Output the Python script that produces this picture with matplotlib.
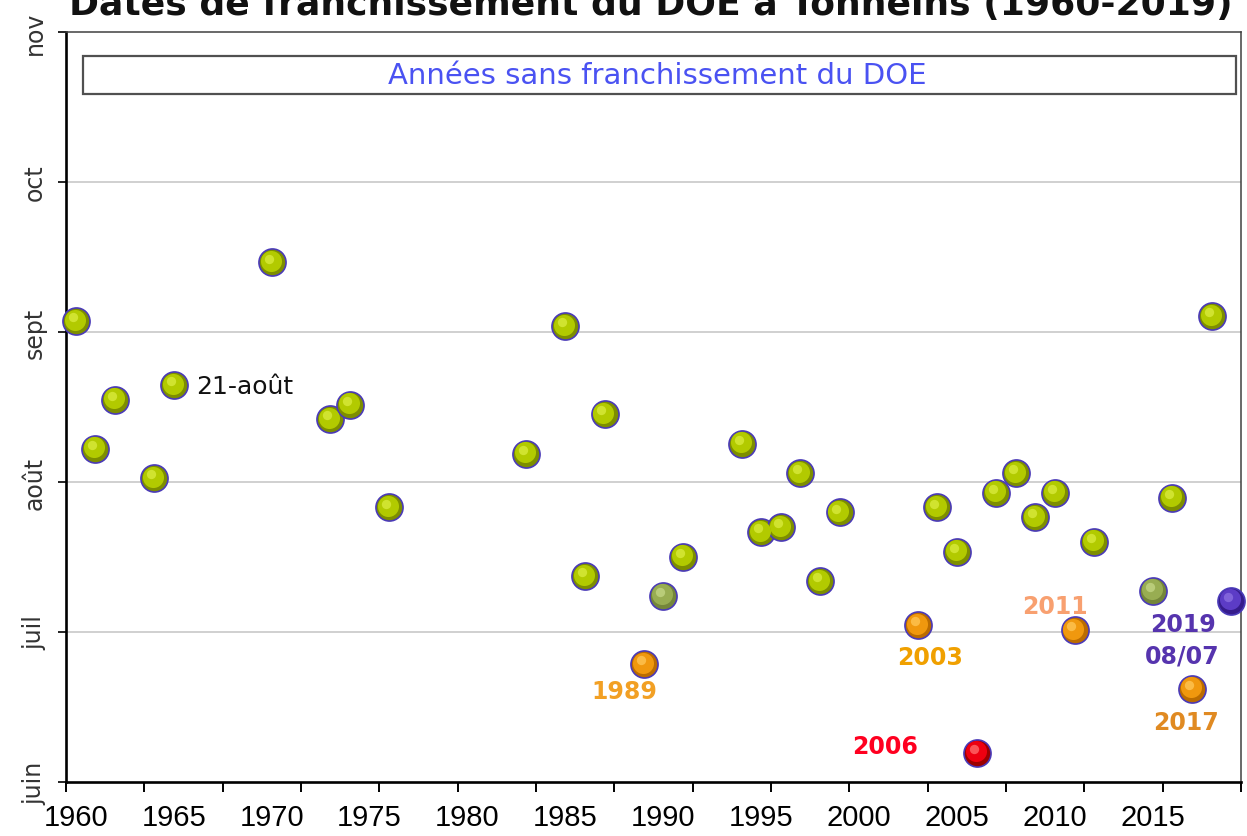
import matplotlib.pyplot as plt
import matplotlib.transforms as mtransforms
from matplotlib.patches import Rectangle
import numpy as np
import pandas as pd

# date de franchissement du DOE, une valeur par année concernée
annees = [1960, 1961, 1962, 1964, 1965, 1970, 1973, 1974, 1976, 1983,
          1985, 1986, 1987, 1989, 1990, 1991, 1994, 1995, 1996, 1997,
          1998, 1999, 2003, 2004, 2005, 2006, 2007, 2008, 2009, 2010,
          2011, 2012, 2015, 2016, 2017, 2018, 2019]
dates = ['09-03', '08-08', '08-18', '08-02', '08-21', '09-15', '08-14', '08-17', '07-27', '08-07',
         '09-02', '07-13', '08-15', '06-25', '07-09', '07-17', '08-09', '07-22', '07-23', '08-03',
         '07-12', '07-26', '07-03', '07-27', '07-18', '06-07', '07-30', '08-03', '07-25', '07-30',
         '07-02', '07-20', '07-10', '07-29', '06-20', '09-04', '07-08']
groupe = ['n', 'n', 'n', 'n', 'n', 'n', 'n', 'n', 'n', 'n',
          'n', 'n', 'n', 'o', 'p', 'n', 'n', 'n', 'n', 'n',
          'n', 'n', 'o', 'n', 'n', 'r', 'n', 'n', 'n', 'n',
          'o', 'n', 'p', 'n', 'o', 'n', 'v']

mois = ['juin', 'juil', 'août', 'sept', 'oct', 'nov']
annees_ticks = list(range(1960, 2016, 5))

# (bord sombre, teinte, reflet)
teintes = {
    'n': ('#7d8e00', '#b2ca00', '#d8ea3c'),
    'p': ('#74863a', '#98ad52', '#c2d484'),
    'o': ('#bb6c00', '#f0980e', '#ffc454'),
    'r': ('#9c0000', '#ee0010', '#ff6a6a'),
    'v': ('#361c8c', '#5c3cc6', '#8a6ee0'),
}

jours = np.array([pd.Timestamp('2001-' + d).dayofyear for d in dates])
x = np.array(annees)
g = np.array(groupe)

fig = plt.figure(figsize=(12.47, 8.37), dpi=100)
ax = fig.add_axes([66 / 1247, 54 / 837, 1175 / 1247, 750 / 837])

y0 = pd.Timestamp('2001-06-01').dayofyear
y1 = pd.Timestamp('2001-11-01').dayofyear
ax.set_ylim(y0, y1)
ax.set_xlim(1959.5, 2019.5)

yt = np.linspace(y0, y1, len(mois))
ax.set_yticks(yt)
ax.set_yticklabels(mois, rotation=90, va='center', fontsize=17, color='#333333')
ax.tick_params(axis='y', direction='out', length=6, width=1.2, pad=8)
for v in yt[1:-1]:
    ax.axhline(v, color='#c8c8c8', lw=1.2, zorder=0)

ax.set_xticks(annees_ticks)
ax.set_xticklabels([str(a) for a in annees_ticks], family='Liberation Sans', fontsize=21)
ax.set_xticks(np.arange(1959.5, 2020, 4), minor=True)
ax.tick_params(axis='x', which='major', length=0, pad=15)
ax.tick_params(axis='x', which='minor', direction='out', length=7, width=1.4)

for s in ['left', 'bottom']:
    ax.spines[s].set_linewidth(1.9)
    ax.spines[s].set_color('black')
for s in ['top', 'right']:
    ax.spines[s].set_linewidth(1.1)
    ax.spines[s].set_color('#404040')

# billes : fond sombre, teinte décalée, petit reflet
t_mid = mtransforms.offset_copy(ax.transData, fig=fig, x=-0.8, y=1.0, units='points')
t_hi = mtransforms.offset_copy(ax.transData, fig=fig, x=-2.2, y=2.8, units='points')
for k, (c0, c1, c2) in teintes.items():
    m = g == k
    ax.scatter(x[m], jours[m], s=380, c=c0, edgecolors='#4a3ab8', linewidths=1.2,
               zorder=3, clip_on=False)
    ax.scatter(x[m], jours[m], s=230, c=c1, linewidths=0, zorder=4, transform=t_mid,
               clip_on=False)
    ax.scatter(x[m], jours[m], s=45, c=c2, linewidths=0, zorder=5, transform=t_hi,
               alpha=0.8, clip_on=False)

def etiquette(annee, texte, dx, dy, couleur, **kw):
    i = annees.index(annee)
    ax.annotate(texte, (annee, jours[i]), xytext=(dx, dy), textcoords='offset points',
                ha=kw.pop('ha', 'center'), va='center', color=couleur,
                fontsize=kw.pop('fontsize', 17), fontweight=kw.pop('fontweight', 'bold'),
                zorder=6, **kw)

etiquette(1965, '21-août', 16, -1, '#111111', ha='left', fontsize=18, fontweight='normal')
etiquette(1989, '1989', -14, -19, '#f2a024')
etiquette(2003, '2003', 9, -23, '#f0a000')
etiquette(2006, '2006', -66, 5, '#ff0020')
etiquette(2011, '2011', -14, 17, '#f8a070')
etiquette(2017, '2017', -4, -24, '#e08a22')
etiquette(2019, '2019\n08/07', -35, -28, '#5634ae', linespacing=1.4)

ax.add_patch(Rectangle((0.0145, 0.9173), 0.9812, 0.0507, transform=ax.transAxes,
                       fill=False, edgecolor='#505050', lw=1.6, zorder=2))
ax.text(0.503, 0.9427, 'Années sans franchissement du DOE', transform=ax.transAxes,
        ha='center', va='center', fontsize=21, color='#4a52f2')

fig.text(0.522, 1 - 15 / 837, 'Dates de franchissement du DOE à Tonneins (1960-2019)',
         ha='center', va='baseline', fontsize=26, fontweight='bold', color='#111111')

fig.savefig('out.png', dpi=100)
